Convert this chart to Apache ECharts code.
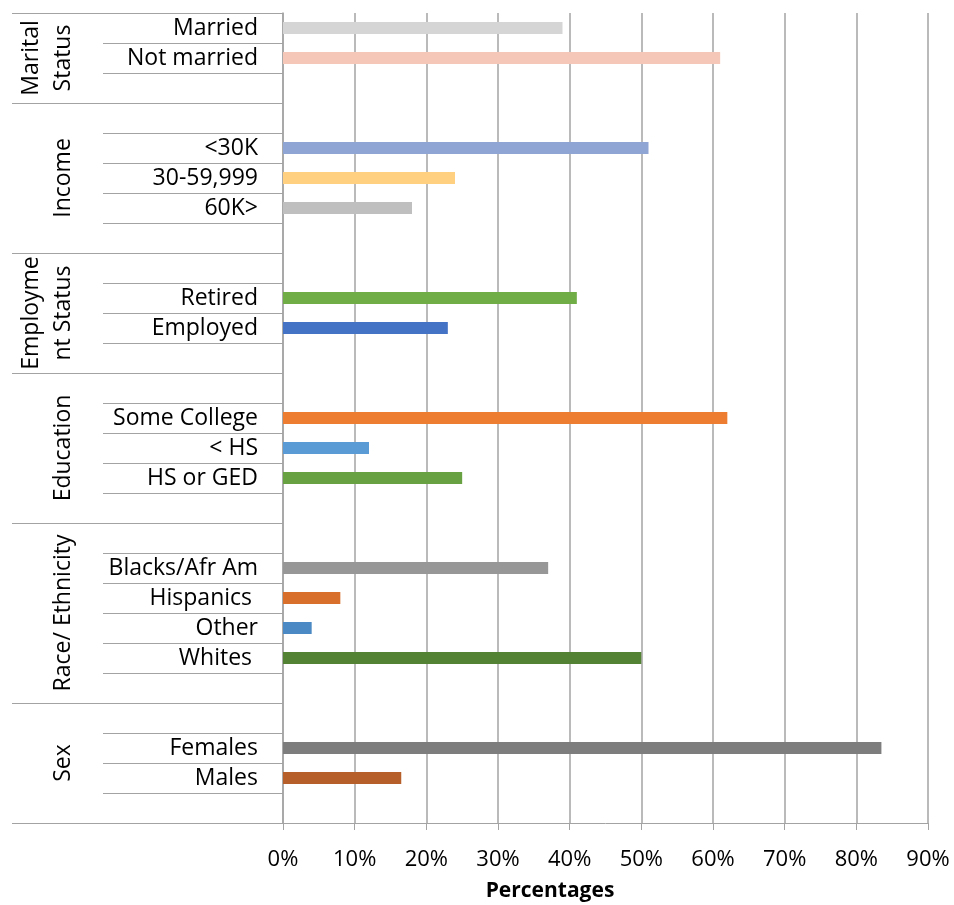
<!DOCTYPE html>
<html>
<head>
<meta charset="utf-8">
<script src="https://cdn.jsdelivr.net/npm/echarts@6/dist/echarts.min.js"></script>
<style>
  html, body { margin: 0; padding: 0; background: #ffffff; }
  #chart { width: 954px; height: 905px; }
</style>
</head>
<body>
<div id="chart"></div>
<script>
// Survey profile: share of respondents (%) within each demographic group.
// Blank strings are spacer rows that separate the groups on the category axis.
const groupNames = ['Marital\nStatus', 'Income', 'Employme\nnt Status', 'Education', 'Race/ Ethnicity', 'Sex'];

const maritalCats = ['Married', 'Not married', ''];
const maritalVals = [39, 61, null];

const incomeCats = ['', '<30K', '30-59,999', '60K>', ''];
const incomeVals = [null, 51, 24, 18, null];

const employmentCats = ['', 'Retired', 'Employed', ''];
const employmentVals = [null, 41, 23, null];

const educationCats = ['', 'Some College', '< HS', 'HS or GED', ''];
const educationVals = [null, 62, 12, 25, null];

const raceCats = ['', 'Blacks/Afr Am', 'Hispanics ', 'Other', 'Whites ', ''];
const raceVals = [null, 37, 8, 4, 50, null];

const sexCats = ['', 'Females', 'Males', ''];
const sexVals = [null, 83.5, 16.5, null];

// x-axis ticks: 0% .. 90% in steps of 10
const xMin = 0;
const xMax = 90;
const xStep = 10;

// Bar fills, one per row (spacer rows have none)
const maritalColors = ['#d5d5d5', '#f5c7b8', null];
const incomeColors = [null, '#8fa6d5', '#ffd07f', '#bfbfbf', null];
const employmentColors = [null, '#70ad47', '#4472c4', null];
const educationColors = [null, '#ed7d31', '#5b9bd5', '#68a142', null];
const raceColors = [null, '#979797', '#d8702c', '#4a89c3', '#548235', null];
const sexColors = [null, '#7d7d7d', '#b65f2a', null];

const groupCats = [maritalCats, incomeCats, employmentCats, educationCats, raceCats, sexCats];
const groupVals = [maritalVals, incomeVals, employmentVals, educationVals, raceVals, sexVals];
const groupColors = [maritalColors, incomeColors, employmentColors, educationColors, raceColors, sexColors];

const categories = [].concat(...groupCats);
const barData = [];
const groupStarts = [];
groupVals.forEach(function (vals, g) {
  groupStarts.push(barData.length);
  vals.forEach(function (v, i) {
    const c = groupColors[g][i];
    barData.push(c ? { value: v, itemStyle: { color: c } } : { value: v });
  });
});

const FONT = '"Open Sans", "Noto Sans", sans-serif';
const LINE = '#a3a3a3';

const chart = echarts.init(document.getElementById('chart'), null, { renderer: 'canvas' });

chart.setOption({
  animation: false,
  backgroundColor: '#ffffff',
  grid: { left: 283, right: 26, top: 13, bottom: 82, containLabel: false },
  xAxis: {
    type: 'value',
    min: xMin,
    max: xMax,
    interval: xStep,
    axisLine: { show: true, lineStyle: { color: LINE, width: 1 } },
    axisTick: { show: true, length: 7, lineStyle: { color: LINE, width: 1 } },
    axisLabel: {
      color: '#000000',
      fontFamily: FONT,
      fontSize: 22,
      margin: 26,
      formatter: '{value}%'
    },
    splitLine: { show: true, lineStyle: { color: LINE, width: 1.5 } }
  },
  yAxis: [
    {
      // inner rows: labels and a rule under every row
      type: 'category',
      data: categories,
      inverse: true,
      position: 'left',
      axisLine: { show: true, lineStyle: { color: LINE, width: 1.5 } },
      axisTick: { show: true, interval: 0, length: 180, lineStyle: { color: LINE, width: 1 } },
      axisLabel: {
        interval: 0,
        color: '#000000',
        fontFamily: FONT,
        fontSize: 23,
        margin: 25
      },
      splitLine: { show: false }
    },
    {
      // outer level: longer rules at the group boundaries
      type: 'category',
      data: categories,
      inverse: true,
      position: 'left',
      axisLine: { show: false },
      axisTick: {
        show: true,
        interval: function (index) { return groupStarts.indexOf(index) >= 0; },
        length: 271,
        lineStyle: { color: LINE, width: 1 }
      },
      axisLabel: { show: false },
      splitLine: { show: false }
    }
  ],
  series: [{
    type: 'bar',
    yAxisIndex: 0,
    data: barData,
    barWidth: 12,
    itemStyle: { color: '#bfbfbf' }
  }]
});

// Group titles, rotated, centred on the rows of each group
const groupGraphics = groupNames.map(function (name, g) {
  const first = groupStarts[g];
  const last = first + groupVals[g].length - 1;
  const y0 = chart.convertToPixel({ yAxisIndex: 0 }, first);
  const y1 = chart.convertToPixel({ yAxisIndex: 0 }, last);
  return {
    type: 'text',
    x: 79,
    y: (y0 + y1) / 2,
    rotation: Math.PI / 2,
    silent: true,
    style: {
      text: name,
      fill: '#000000',
      font: '23px ' + FONT,
      lineHeight: 32,
      align: 'center',
      verticalAlign: 'bottom'
    }
  };
});

groupGraphics.push({
  type: 'text',
  x: 550,
  y: 891,
  silent: true,
  style: {
    text: 'Percentages',
    fill: '#000000',
    font: 'bold 21px ' + FONT,
    align: 'center',
    verticalAlign: 'middle'
  }
});

chart.setOption({ graphic: groupGraphics });
</script>
</body>
</html>
